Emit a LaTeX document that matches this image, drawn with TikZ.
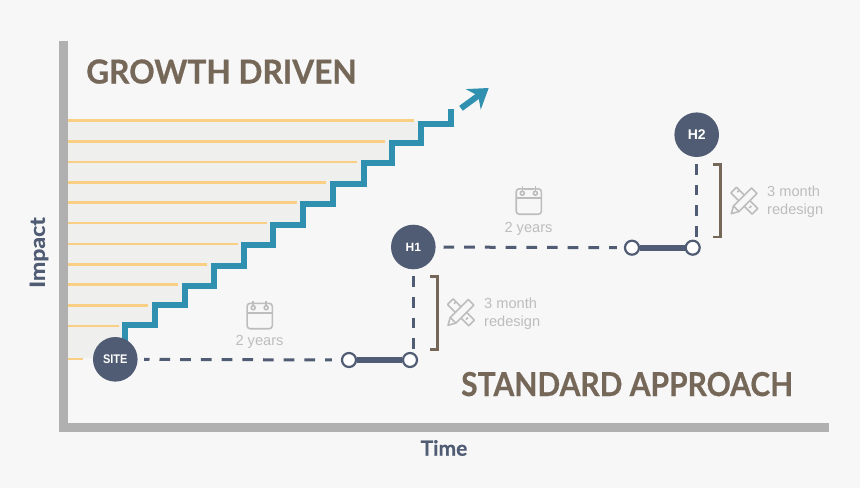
\documentclass[tikz,border=0pt]{standalone}
\usepackage{fontspec}
\setmainfont{Liberation Sans}
\newfontfamily\headfont{Lato}[BoldFeatures={FakeBold=0.6}]
\usetikzlibrary{arrows.meta}
\definecolor{pagebg}{HTML}{F7F7F7}
\definecolor{areabg}{HTML}{EFEFEE}
\definecolor{axisgrey}{HTML}{B0B0B0}
\definecolor{rowyellow}{HTML}{F8CF83}
\definecolor{stairblue}{HTML}{2F90AF}
\definecolor{slate}{HTML}{505C73}
\definecolor{umber}{HTML}{766859}
\definecolor{softgrey}{HTML}{BDBDBD}
\tikzset{
  axisline/.style={draw=axisgrey,line width=9pt},
  rowline/.style={draw=rowyellow,line width=2.5pt},
  stairline/.style={draw=stairblue,line width=6pt,miter limit=10},
  hub/.style={circle,fill=slate,minimum size=44.6pt,inner sep=0pt,text=white,font=\bfseries\fontsize{14}{14}\selectfont},
  ring/.style={circle,draw=slate,fill=white,line width=2.2pt,minimum size=14pt,inner sep=0pt},
  dashline/.style={draw=slate,line width=3pt,dash pattern=on 10.7pt off 10pt},
  barline/.style={draw=slate,line width=6pt},
  bracketline/.style={draw=umber,line width=2.5pt,miter limit=10},
  headtext/.style={text=umber,font=\headfont\bfseries\fontsize{33}{33}\selectfont,anchor=base west,inner sep=0pt},
  axistext/.style={text=slate,font=\headfont\bfseries\fontsize{21}{21}\selectfont,inner sep=0pt},
  notetext/.style={text=softgrey,font=\fontsize{14.6}{18}\selectfont,inner sep=0pt},
  iconline/.style={draw=softgrey,line width=1.6pt},
  pics/calicon/.style={code={
    \draw[iconline,rounded corners=3pt] (-12.6,-10) rectangle (12.6,15.4);
    \draw[iconline] (-12.6,-0.6) -- (12.6,-0.6);
    \draw[iconline,fill=pagebg] (-6.5,-5.6) circle (2pt);
    \draw[iconline,fill=pagebg] (6.5,-5.6) circle (2pt);
    \draw[iconline] (-6.5,-7.6) -- (-6.5,-12.6);
    \draw[iconline] (6.5,-7.6) -- (6.5,-12.6);
    \draw[iconline] (-4.5,-10) -- (4.5,-10);
  }},
  pics/toolicon/.style={code={
    % ruler
    \draw[iconline,line join=round] (-13.4,-7.8) -- (-7.8,-13.4) -- (13.4,7.8) -- (7.8,13.4) -- cycle;
    \draw[iconline] (-7,-8.6) -- (-5,-10.6);
    \draw[iconline] (7,5.2) -- (5,7.2);
    % pencil
    \draw[iconline,fill=pagebg,line join=round] (-13,13) -- (-10.8,5.2) -- (7.2,-12.8) -- (12.8,-7.2) -- (-5.2,10.8) -- cycle;
    \draw[iconline] (-10.8,5.2) -- (-5.2,10.8);
  }}
}
\begin{document}
\begin{tikzpicture}[x=1pt,y=-1pt]

    % --- Page ---
    \fill[pagebg] (0,0) rectangle (860,488);
    \useasboundingbox (0,0) rectangle (860,488);

    % --- Area under the stairs ---
    \fill[areabg] (67,121) -- (421,121) -- (421,143) -- (392,143) -- (392,163) -- (364,163)
        -- (364,184) -- (333,184) -- (333,204) -- (303,204) -- (303,225) -- (273,225)
        -- (273,245) -- (244,245) -- (244,266) -- (214,266) -- (214,286) -- (184.5,286)
        -- (184.5,305) -- (155,305) -- (155,325) -- (125,325) -- (125,358) -- (67,358) -- cycle;

    % --- Rows ---
    \draw[rowline] (67,120.7) -- (414,120.7);
    \draw[rowline] (67,141.3) -- (385,141.3);
    \draw[rowline] (67,162) -- (357,162);
    \draw[rowline] (67,182.3) -- (326,182.3);
    \draw[rowline] (67,202.7) -- (297,202.7);
    \draw[rowline] (67,223.2) -- (267,223.2);
    \draw[rowline] (67,243.8) -- (238,243.8);
    \draw[rowline] (67,264.3) -- (207,264.3);
    \draw[rowline] (67,284.7) -- (178,284.7);
    \draw[rowline] (67,305.3) -- (148,305.3);
    \draw[rowline] (67,326) -- (119,326);
    \draw[rowline] (67,359) -- (83,359);

    % --- Stairs ---
    \draw[stairline] (125,345) -- (125,325) -- (155,325) -- (155,305) -- (184.5,305) -- (184.5,286)
        -- (214,286) -- (214,266) -- (244,266) -- (244,245) -- (273,245) -- (273,225)
        -- (303,225) -- (303,204) -- (333,204) -- (333,184) -- (364,184) -- (364,163)
        -- (392,163) -- (392,143) -- (421,143) -- (421,124) -- (451,124) -- (451,109);

    % Arrow above the stairs
    \coordinate (arrowfoot) at (461,108.3);
    \coordinate (arrowtip) at (488.7,88);
    \draw[draw=stairblue,fill=stairblue,line width=6pt,-{Stealth[length=19pt,width=25pt,inset=6pt]}] (arrowfoot) -- (arrowtip);

    % --- Axes ---
    \draw[axisline] (63,40.7) -- (63,427.5) -- (829,427.5);

    % --- Headings and axis names ---
    \node[headtext,xscale=0.958] (growth) at (86,83.5) {GROWTH DRIVEN};
    \node[headtext,xscale=0.908] (standard) at (461,396) {STANDARD APPROACH};
    \node[axistext,rotate=90,xscale=1.1] (impact) at (39,252.5) {Impact};
    \node[axistext] (time) at (444,448) {Time};

    % --- Hubs and rings ---
    \node[hub,font=\bfseries\fontsize{12.5}{12.5}\selectfont] (site) at (115.3,359.3) {\scalebox{0.88}[1]{SITE}};
    \node[hub,font=\bfseries\fontsize{12}{12}\selectfont] (h1) at (413.3,247) {H1};
    \node[hub] (h2) at (696.7,134.7) {H2};
    \node[ring] (start1) at (349,360) {};
    \node[ring] (end1) at (410,360) {};
    \node[ring] (start2) at (632,247.7) {};
    \node[ring] (end2) at (692.7,247.7) {};

    % --- Connectors ---
    % First run
    \draw[dashline,dash phase=5.4pt,shorten <=6.4pt,shorten >=9pt] (site) -- (start1);
    \draw[dashline,shorten <=6.7pt,shorten >=10.5pt] (h1) -- (h1 |- end1);
    % Second run
    \draw[dashline,shorten <=7.7pt,shorten >=7pt] (h1) -- (start2);
    \draw[dashline,shorten <=6.7pt,shorten >=10.5pt] (h2) -- (h2 |- end2);
    % Thick bars
    \draw[barline] (start1) -- (end1);
    \draw[barline] (start2) -- (end2);

    % --- Brackets ---
    \draw[bracketline] (430,276.7) -- (437.3,276.7) -- (437.3,349.3) -- (430,349.3);
    \draw[bracketline] (713,164.3) -- (720.7,164.3) -- (720.7,237) -- (713,237);

    % --- Notes ---
    \pic at (259.7,313.3) {calicon};
    \node[notetext] (years1) at (259.5,341.5) {2 years};
    \pic at (528.8,198.8) {calicon};
    \node[notetext] (years2) at (528.5,228.5) {2 years};
    \pic at (461,312.3) {toolicon};
    \node[notetext,align=left,anchor=west] (redesign1) at (484,314) {3 month\\redesign};
    \pic at (744.3,200.7) {toolicon};
    \node[notetext,align=left,anchor=west] (redesign2) at (767,202) {3 month\\redesign};

\end{tikzpicture}
\end{document}
